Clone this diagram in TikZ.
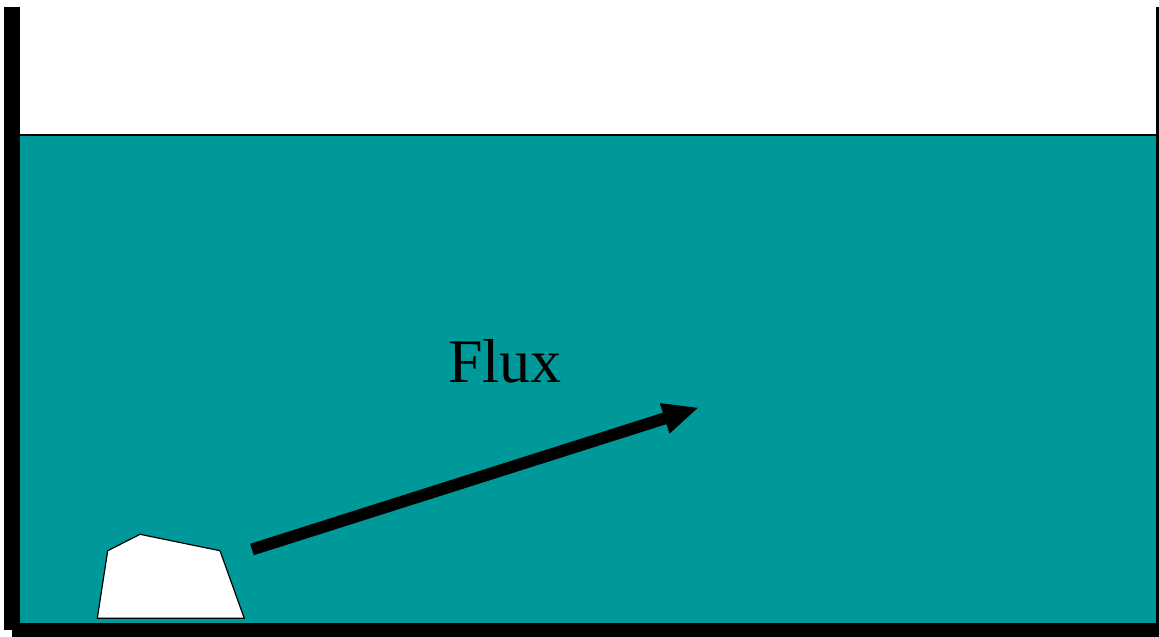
\documentclass[tikz,border=0pt]{standalone}
\usepackage{fontspec}
\setmainfont{Liberation Serif}
\usetikzlibrary{arrows.meta}
\definecolor{water}{RGB}{0,153,153}
\tikzset{
  wall/.style={fill=black, draw=none},
  rock/.style={fill=white, draw=black, line width=1.2pt, line join=miter},
  fluxarrow/.style={line width=12pt, -{Triangle[length=36pt,width=29pt]}},
}
\begin{document}
\begin{tikzpicture}[x=1pt,y=-1pt]
\useasboundingbox (0,0) rectangle (1159,637);
\fill[white] (0,0) rectangle (1159,637);
% water
\fill[water] (20,135) rectangle (1156,623);
\draw[line width=2pt] (20,135) -- (1156,135);
% walls
\fill[wall] (4,7) rectangle (20,630);
\fill[wall] (12,623) rectangle (1159,637);
\fill[wall] (1155.5,7) rectangle (1159,637);
% rock
\draw[rock] (97.3,618.3) -- (107.7,550.7) -- (140,534.3) -- (220,550.7) -- (244.3,618.3) -- cycle;
% arrow
\coordinate (a) at (252,549.5);
\coordinate (b) at (699,407.5);
\draw[fluxarrow] (a) -- (b);
\node[font=\fontsize{62}{70}\selectfont, anchor=base] (flux) at (505,382) {Flux};
\end{tikzpicture}
\end{document}
